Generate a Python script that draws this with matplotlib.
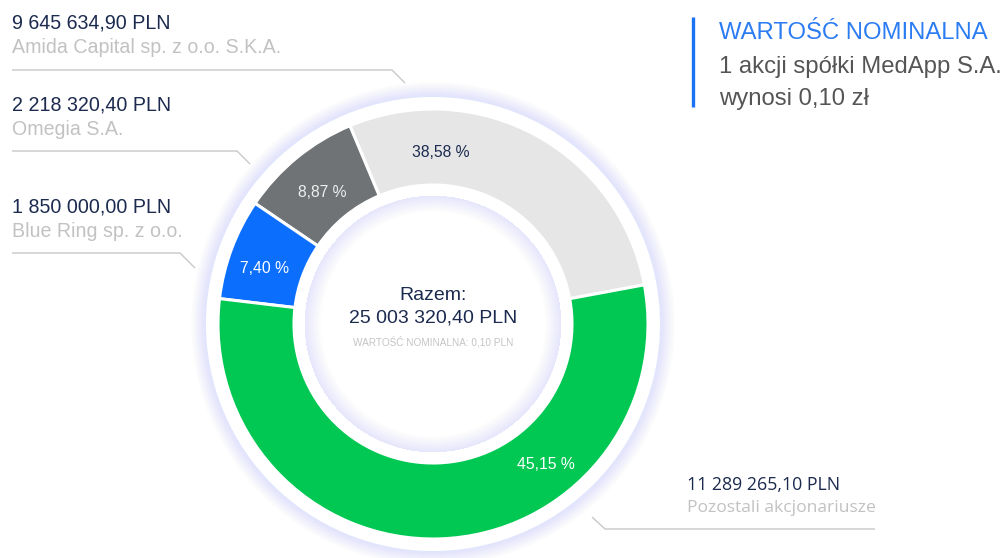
import matplotlib
matplotlib.use("Agg")
import matplotlib.pyplot as plt
from matplotlib.patches import Circle, Wedge
import numpy as np

# ---------------- data ----------------
holders = ["Amida Capital sp. z o.o. S.K.A.", "Omegia S.A.",
           "Blue Ring sp. z o.o.", "Pozostali akcjonariusze"]
amounts = ["9 645 634,90 PLN", "2 218 320,40 PLN",
           "1 850 000,00 PLN", "11 289 265,10 PLN"]
pct_labels = ["38,58 %", "8,87 %", "7,40 %", "45,15 %"]
# slice sizes as they are drawn in the picture (%)
drawn_shares = [28.4, 9.2, 7.6, 54.8]
slice_colors = ["#e6e6e6", "#6f7375", "#0b6efd", "#00c853"]
pct_colors = ["#1b2a4e", "#eeeeee", "#ffffff", "#ffffff"]
total_label = "Razem:"
total_value = "25 003 320,40 PLN"
nominal_small = "WARTOŚĆ NOMINALNA: 0,10 PLN"
box_title = "WARTOŚĆ NOMINALNA"
box_lines = ["1 akcji spółki MedApp S.A.", "wynosi 0,10 zł"]

# ---------------- layout ----------------
W, H = 1003, 558
def Y(y):
    return H - y

NAVY = "#1b2a4e"
LGRAY = "#c2c2c2"
LINE = "#c8c8c8"
GLOW = "#d8e5fc"
FONT = ["Liberation Sans", "DejaVu Sans"]
FONT2 = ["Open Sans", "DejaVu Sans"]

fig = plt.figure(figsize=(W / 100, H / 100), dpi=100)
ax = fig.add_axes([0, 0, 1, 1])

cx, cy = 433, Y(324)
R_out, R_in = 215, 139

# outer glow
N = 30
for i in range(N, 0, -1):
    ax.add_patch(Circle((cx, cy), 227 + 15 * i / N, fc=GLOW, ec="none",
                        alpha=0.022, zorder=1))
ax.add_patch(Circle((cx, cy), 227, fc="white", ec="none", zorder=2))

wedges, _ = ax.pie(drawn_shares, colors=slice_colors, startangle=10.5,
                   counterclock=True, center=(cx, cy), radius=R_out,
                   wedgeprops=dict(width=R_out - R_in, edgecolor="white",
                                   linewidth=2.2))
for w in wedges:
    w.set_zorder(3)

# inner plate with inner glow
ax.add_patch(Circle((cx, cy), 128, fc="white", ec="none", zorder=4))
N2 = 24
for i in range(1, N2 + 1):
    ax.add_patch(Wedge((cx, cy), 128, 0, 360, width=16 * i / N2, fc=GLOW,
                       ec="none", alpha=0.02, zorder=5))

# percentage labels (angle deg, radius)
pct_pos = [(87.3, 172), (130.0, 172), (161.7, 178), (-51.1, 180)]
for lab, col, (a, r) in zip(pct_labels, pct_colors, pct_pos):
    ax.text(cx + r * np.cos(np.radians(a)), cy + r * np.sin(np.radians(a)),
            lab, ha="center", va="center", color=col, fontsize=11.3,
            family=FONT, zorder=6)

# centre texts
ax.text(cx, Y(295), total_label, ha="center", va="center", color=NAVY,
        fontsize=14.0, family=FONT, zorder=6)
ax.text(cx, Y(318), total_value, ha="center", va="center", color=NAVY,
        fontsize=14.0, family=FONT, zorder=6)
ax.text(cx, Y(342), nominal_small, ha="center", va="center", color="#c4c4c4",
        fontsize=7.2, family=FONT, zorder=6)

# left labels
left_y = [(23, 47), (105, 129), (207, 231)]
for i, (y1, y2) in enumerate(left_y):
    ax.text(12, Y(y1), amounts[i], ha="left", va="center", color=NAVY,
            fontsize=14.1, family=FONT, zorder=6)
    ax.text(12, Y(y2), holders[i], ha="left", va="center", color=LGRAY,
            fontsize=14.1, family=FONT, zorder=6)

leaders = [
    [(12, 70), (392, 70), (405, 83)],
    [(12, 151), (237, 151), (250, 164)],
    [(12, 253), (180, 253), (195, 268)],
    [(592, 517), (605, 529), (875, 529)],
]
for pts in leaders:
    xs = [p[0] for p in pts]
    ys = [Y(p[1]) for p in pts]
    ax.plot(xs, ys, color=LINE, lw=1.0, zorder=6, solid_capstyle="butt")

# bottom right label
ax.text(687, Y(485), amounts[3], ha="left", va="center", color=NAVY,
        fontsize=12.8, family=FONT2, zorder=6)
ax.text(687, Y(508), holders[3], ha="left", va="center", color=LGRAY,
        fontsize=12.6, family=FONT2, zorder=6)

# right info box
ax.plot([693, 693], [Y(17), Y(107)], color="#1a73f5", lw=2.4,
        solid_capstyle="butt", zorder=6)
ax.text(719, Y(33), box_title, ha="left", va="center", color="#2b7cf2",
        fontsize=17.2, family=FONT, zorder=6)
ax.text(719, Y(67), box_lines[0], ha="left", va="center", color="#555555",
        fontsize=17.2, family=FONT, zorder=6)
ax.text(719, Y(99), box_lines[1], ha="left", va="center", color="#555555",
        fontsize=17.2, family=FONT, zorder=6)

ax.set_xlim(0, W)
ax.set_ylim(0, H)
ax.set_aspect("equal")
ax.axis("off")

fig.savefig("out.png", dpi=100, facecolor="white")
